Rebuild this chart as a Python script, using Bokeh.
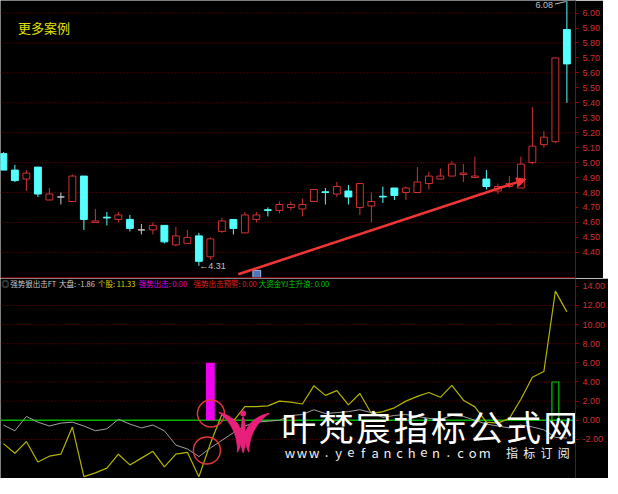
import numpy as np
from bokeh.plotting import figure
from bokeh.layouts import column
from bokeh.models import (Range1d, FixedTicker, PrintfTickFormatter, Span, Arrow,
                          NormalHead, ColumnDataSource)
from bokeh.core.properties import value
from bokeh.embed import file_html
from bokeh.resources import INLINE

# ---------------- data ----------------
opens  = [5.06, 4.95, 4.89, 4.97, 4.75, 4.77, 4.74, 4.91, 4.60, 4.635,
          4.62, 4.62, 4.55, 4.55, 4.58, 4.45, 4.46, 4.51, 4.37, 4.54,
          4.62, 4.53, 4.62, 4.685, 4.68, 4.70, 4.69, 4.74, 4.805, 4.79,
          4.81, 4.70, 4.71, 4.775, 4.83, 4.80, 4.80, 4.86, 4.89, 4.91,
          4.92, 4.90, 4.89, 4.81, 4.84, 4.83, 5.00, 5.12, 5.14, 5.89]
highs  = [5.07, 4.985, 4.95, 4.97, 4.83, 4.80, 4.92, 4.91, 4.69, 4.67,
          4.67, 4.65, 4.59, 4.60, 4.58, 4.57, 4.55, 4.53, 4.50, 4.63,
          4.62, 4.67, 4.67, 4.70, 4.74, 4.74, 4.76, 4.82, 4.83, 4.87,
          4.85, 4.86, 4.80, 4.84, 4.83, 4.84, 4.97, 4.94, 4.96, 5.01,
          4.99, 5.04, 4.95, 4.86, 4.91, 5.04, 5.37, 5.21, 5.70, 6.08]
lows   = [4.95, 4.87, 4.81, 4.77, 4.75, 4.72, 4.74, 4.55, 4.60, 4.58,
          4.60, 4.54, 4.52, 4.52, 4.46, 4.44, 4.46, 4.31, 4.35, 4.53,
          4.52, 4.53, 4.60, 4.64, 4.66, 4.68, 4.64, 4.74, 4.72, 4.77,
          4.72, 4.65, 4.60, 4.73, 4.75, 4.75, 4.80, 4.82, 4.89, 4.91,
          4.87, 4.90, 4.82, 4.79, 4.83, 4.83, 4.99, 5.10, 5.13, 5.40]
closes = [4.95, 4.88, 4.93, 4.79, 4.79, 4.77, 4.91, 4.62, 4.61, 4.63,
          4.65, 4.56, 4.55, 4.58, 4.47, 4.51, 4.50, 4.34, 4.49, 4.61,
          4.56, 4.65, 4.65, 4.68, 4.72, 4.72, 4.72, 4.82, 4.80, 4.84,
          4.77, 4.86, 4.74, 4.77, 4.78, 4.83, 4.87, 4.91, 4.91, 4.99,
          4.93, 4.91, 4.84, 4.84, 4.86, 4.99, 5.11, 5.17, 5.70, 5.66]

# 大盘 (gray line)
dapan = [-0.5, -1.1, 0.4, -0.2, -0.6, -0.3, -0.2, -0.6, -1.1, -0.9,
         0.1, -0.4, -0.8, -0.5, -1.1, -2.6, -3.0, -3.8, -2.9, -2.1,
         -1.3, -0.6, -0.2, -0.1, 0.0, 0.5, 0.6, 1.1, 0.7, 0.8,
         0.9, 1.1, 0.8, 0.3, 0.5, 0.6, 0.4, 0.2, 0.1, 0.5,
         0.4, 0.0, -0.4, -0.6, -0.8, -0.5, -0.7, -1.0, -1.8, -1.86]
# 个股 (yellow line)
gegu = [-2.44, -3.45, -2.23, -4.37, -3.76, -3.55, -0.71, -5.9, -5.5, -5.0,
        -3.55, -4.67, -3.96, -3.25, -4.87, -3.55, -3.35, -5.9, -2.44, 0.6,
        -0.1, 1.42, 1.42, 1.5, 2.0, 1.9, 1.7, 3.6, 2.6, 3.1,
        1.6, 2.8, 0.7, 0.9, 1.3, 2.0, 2.5, 2.9, 2.4, 3.65,
        2.1, 1.4, -0.2, -0.3, 0.2, 2.2, 4.5, 5.1, 13.5, 11.33]
# 强势出击 (magenta bars) and 大资金 (green hollow bars)
qiangshi = [0]*18 + [6.0] + [0]*31
dazijin  = [0]*48 + [4.0] + [0]
# 预警 circles (index, value)
yujing_x = [18.05, 17.7]
yujing_y = [0.71, -3.15]

price_ticks = [4.40, 4.50, 4.60, 4.70, 4.80, 4.90, 5.00, 5.10, 5.20, 5.30,
               5.40, 5.50, 5.60, 5.70, 5.80, 5.90, 6.00]
price_grid = [4.40, 4.60, 4.80, 5.00, 5.20, 5.40, 5.60, 5.80, 6.00]
lower_ticks = [-2, 0, 2, 4, 6, 8, 10, 12, 14]
lower_grid = [-2, 2, 4, 6, 8, 10, 12]

title_texts = ["◎", "强势狠出击FT", "大盘: -1.86", "个股: 11.33", "强势出击: 0.00",
               "强势出击预警: 0.00", "大资金YJ主升浪: 0.00"]
title_colors = ["#B0B0B0", "#C8C8C8", "#D0D0D0", "#D8D800", "#E000E0",
                "#E02020", "#00C800"]

# ---------------- style constants ----------------
CYAN = "#54FFFF"
RED = "#D23232"
GRAY = "#C8C8C8"
AX = "#9A0000"
GRID = "#800000"
FW = 575
n = len(opens)
idx = list(range(n))

# ref-pixel helpers for annotations
def xi(px):
    return (px - 3) / 11.8

def pv(py):
    return 5.00 - (py - 167.7) / 154.4

def lv(py):
    return (434 - py) / 9.85

xr = Range1d(-0.25, 49.75)

def make_fig(h, yr):
    return figure(frame_width=FW, frame_height=h, x_range=xr, y_range=yr,
                  output_backend="svg", toolbar_location=None, x_axis_location=None,
                  y_axis_location="right", background_fill_color="black",
                  border_fill_color="black", outline_line_color=None,
                  min_border_left=0, min_border_right=0, min_border_top=0,
                  min_border_bottom=0)

def style_axis(p, ticks, grid):
    ax = p.yaxis[0]
    ax.ticker = FixedTicker(ticks=ticks)
    ax.formatter = PrintfTickFormatter(format="%.2f")
    ax.major_label_text_color = "#D03030"
    ax.major_label_text_font_size = "9px"
    ax.major_label_text_font = "Liberation Sans"
    ax.axis_line_color = AX
    ax.axis_line_width = 1
    ax.major_tick_line_color = AX
    ax.major_tick_out = 3
    ax.major_tick_in = 0
    ax.minor_tick_line_color = None
    ax.major_label_standoff = 4
    p.ygrid.visible = False
    p.xgrid.visible = False
    for g in grid:
        p.add_layout(Span(location=g, dimension="width", line_color=GRID,
                          line_width=1, line_dash="1 2", level="underlay"))

# ---------------- main panel ----------------
p1 = make_fig(278, Range1d(4.225, 6.084))
style_axis(p1, price_ticks, price_grid)

cols, fills, tops, bots = [], [], [], []
for o, c in zip(opens, closes):
    if c > o:
        cols.append(RED); fills.append("black")
    elif c < o:
        cols.append(CYAN); fills.append(CYAN)
    else:
        cols.append(GRAY); fills.append(GRAY)
    tops.append(max(o, c)); bots.append(min(o, c))

src = ColumnDataSource(dict(x=idx, h=highs, l=lows, top=tops, bottom=bots,
                            color=cols, fill=fills))
p1.segment(x0="x", y0="h", x1="x", y1="l", line_color="color", line_width=1, source=src)
p1.vbar(x="x", width=0.6, top="top", bottom="bottom", fill_color="fill",
        line_color="color", line_width=1, source=src)

# labels
p1.text(x=[xi(18)], y=[pv(28)], text=["更多案例"], text_color="#E0E000",
        text_font=value("Noto Sans CJK SC"), text_font_size="13px",
        text_baseline="middle", text_align="left")
p1.text(x=[xi(204)], y=[pv(274)], text=["←4.31"], text_color="#C0C0C0",
        text_font=value("Liberation Sans"), text_font_size="9px",
        text_baseline="middle", text_align="left")
p1.text(x=[xi(567)], y=[pv(4.5)], text=["6.08"], text_color="#C0C0C0",
        text_font=value("Liberation Sans"), text_font_size="9px",
        text_baseline="middle", text_align="right")
p1.segment(x0=[xi(569)], y0=[pv(4)], x1=[xi(580)], y1=[pv(1.5)],
           line_color="#C0C0C0", line_width=1)

# small blue icon
p1.rect(x=[xi(263)], y=[pv(283)], width=8/11.8, height=8/154.4,
        fill_color="#4F74B8", line_color="#9DB8F0", line_width=1)

# red trend arrow
p1.add_layout(Arrow(end=NormalHead(size=9, fill_color="#F03535", line_color="#F03535"),
                    x_start=xi(244), y_start=pv(283), x_end=xi(539), y_end=pv(185),
                    line_color="#F03535", line_width=2.5))

p1.add_layout(Span(location=4.229, dimension="width", line_color="#A00000", line_width=1.5))

# ---------------- lower panel ----------------
p2 = make_fig(200, Range1d(-6.09, 14.82))
style_axis(p2, lower_ticks, lower_grid)

p2.add_layout(Span(location=0, dimension="width", line_color="#00B400", line_width=1.5,
                   level="underlay"))

qx = [i for i in idx if qiangshi[i] != 0]
p2.vbar(x=qx, top=[qiangshi[i] for i in qx], bottom=0, width=0.76,
        fill_color="#F000F0", line_color=None)
dx = [i for i in idx if dazijin[i] != 0]
p2.vbar(x=dx, top=[dazijin[i] for i in dx], bottom=0, width=0.6,
        fill_color=None, line_color="#00C800", line_width=1.2)

p2.line(idx, dapan, line_color="#A0A0A0", line_width=1)
p2.line(idx, gegu, line_color="#B4B400", line_width=1.2)

p2.circle(x=yujing_x, y=yujing_y, radius=13.5, radius_units="screen",
          fill_color=None, line_color="#E03838", line_width=1.5)

# title row
title_px = [1, 10, 60, 100, 142, 198, 265]
p2.text(x=[xi(v) for v in title_px], y=[lv(293)] * len(title_texts), text=title_texts,
        text_color=title_colors, text_font=value("Noto Sans CJK SC"),
        text_font_size="7.5px", text_baseline="middle", text_align="left")

# watermark logo (pink lotus)
PINK = "#E8207A"

def petal(b, t, w, inner=0.45, m=30):
    bx, by = b; tx, ty = t
    ddx, ddy = tx - bx, ty - by
    L = np.hypot(ddx, ddy)
    nx, ny = -ddy / L, ddx / L
    s = np.linspace(0, 1, m)
    bulge = np.sin(np.pi * s) ** 0.8
    ox = bx + ddx * s + nx * w * bulge
    oy = by + ddy * s + ny * w * bulge
    ix = (bx + ddx * s + nx * w * inner * bulge)[::-1]
    iy = (by + ddy * s + ny * w * inner * bulge)[::-1]
    px = np.concatenate([ox, ix]); py = np.concatenate([oy, iy])
    return [xi(v) for v in px], [lv(v) for v in py]

petals = [petal((243, 467), (224, 426), 13), petal((255, 467), (276, 427), -13),
          petal((247, 462), (236, 436), 6), petal((251, 462), (262, 436), -6)]
p2.patches(xs=[pp[0] for pp in petals], ys=[pp[1] for pp in petals],
           fill_color=PINK, line_color=PINK, line_width=1)
p2.ellipse(x=[xi(249)], y=[lv(449)], width=5/11.8, height=38/9.85,
           fill_color=PINK, line_color=None)
p2.ellipse(x=[xi(249)], y=[lv(427)], width=6/11.8, height=6/9.85,
           fill_color=PINK, line_color=None)

# watermark text
wm = list("叶梵宸指标公式网")
p2.text(x=[xi(v) for v in np.linspace(306, 575, len(wm))], y=[lv(439)] * len(wm),
        text=wm, text_color="#FFFFFF", text_font=value("Noto Sans CJK SC"),
        text_font_size="35px", text_baseline="middle", text_align="center")
url = list("www.yefanchen.com")
p2.text(x=[xi(v) for v in np.linspace(297, 497, len(url))], y=[lv(467)] * len(url),
        text=url, text_color="#F0F0F0", text_font=value("Noto Sans CJK SC"),
        text_font_size="13px", text_baseline="middle", text_align="center")
sub = list("指标订阅")
p2.text(x=[xi(v) for v in np.linspace(525, 578, len(sub))], y=[lv(467)] * len(sub),
        text=sub, text_color="#F0F0F0", text_font=value("Noto Sans CJK SC"),
        text_font_size="12px", text_baseline="middle", text_align="center")

layout = column(p1, p2, spacing=0)
open("out.html", "w").write(file_html(layout, INLINE))
